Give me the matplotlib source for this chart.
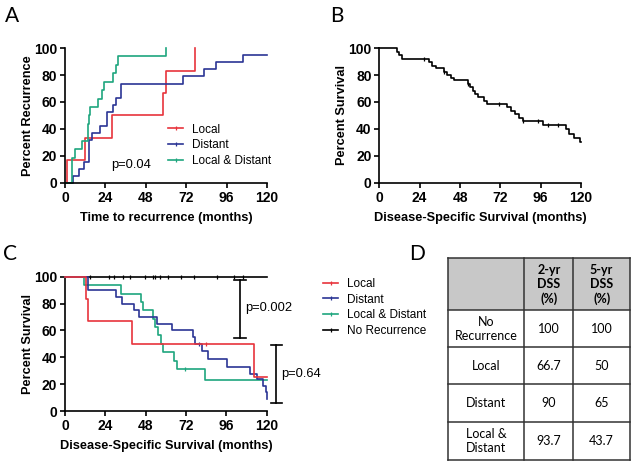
import numpy as np
import matplotlib
matplotlib.use("Agg")
import matplotlib.pyplot as plt
from matplotlib.lines import Line2D

plt.rcParams["font.family"] = ["Liberation Sans", "DejaVu Sans"]

RED = "#e8343c"
BLUE = "#2b3595"
GREEN = "#1ea67e"

# --- A : cumulative recurrence (time, percent after step)
a_local_t = [0, 1.2, 11.9, 28.0, 58.5, 60.0, 77.0]
a_local_v = [0, 16.7, 33.3, 50.0, 66.7, 83.3, 100.0]
a_dist_t = [0, 4.6, 8.6, 11.2, 14.2, 15.8, 20.6, 25.0, 28.4, 30.4, 33.4, 70.0, 82.7, 89.9, 105.8, 120]
a_dist_v = [0, 5.3, 10.5, 15.8, 31.6, 36.8, 42.1, 52.6, 57.9, 63.2, 73.7, 78.9, 84.2, 89.5, 94.7, 94.7]
a_ld_t = [0, 4.2, 5.8, 10.1, 13.7, 14.3, 15.0, 19.6, 21.7, 23.1, 28.5, 30.1, 31.7, 33.8, 60.0]
a_ld_v = [0, 18.75, 25.0, 31.25, 43.75, 50.0, 56.25, 62.5, 68.75, 75.0, 81.25, 87.5, 93.75, 93.75, 100.0]
a_pval = "p=0.04"

# --- B : overall disease-specific survival
b_t = [0, 10.5, 12.0, 13.5, 29.5, 31.5, 33.5, 38.5, 40.5, 42.5, 44.5, 46.4, 52.5, 54.0, 55.5,
       57.0, 59.0, 62.0, 64.0, 66.3, 75.8, 78.4, 80.8, 83.0, 85.3, 97.2, 110.8, 112.8, 115.9,
       119.4, 120]
b_v = [100, 97.4, 94.8, 92.0, 89.5, 87.0, 85.0, 82.5, 80.0, 78.0, 76.0, 76.0, 73.5, 71.0, 68.5,
       66.0, 63.5, 61.0, 58.5, 58.5, 56.0, 53.5, 51.0, 48.5, 46.0, 43.0, 40.0, 36.0, 33.0,
       30.0, 30.0]
b_cens = [26.6, 38.7, 53.0, 71.4, 85.6, 94.6, 100.6, 106.0]

# --- C : survival by recurrence pattern
c_local_t = [0, 12.5, 13.5, 39.8, 112.7, 120]
c_local_v = [100, 83.3, 66.7, 50.0, 25.0, 25.0]
c_local_cens = [83.9]
c_dist_t = [0, 13.7, 30.4, 33.9, 40.9, 43.9, 54.5, 63.5, 76.4, 77.4, 81.4, 85.3, 96.6, 110.1,
            114.1, 118.0, 119.5, 120]
c_dist_v = [100, 90, 85, 80, 75, 70, 65, 60, 55, 50, 44.4, 38.5, 33.0, 27.8,
            23.5, 19.0, 14.0, 9.0]
c_dist_cens = [79.5]
c_ld_t = [0, 11.1, 33.5, 45.4, 46.4, 52.6, 53.6, 55.5, 57.0, 58.5, 64.9, 66.5, 83.3, 120]
c_ld_v = [100, 93.75, 87.5, 81.25, 75.0, 68.75, 62.5, 56.25, 50.0, 43.75, 37.5, 31.25, 23.4, 23.4]
c_ld_cens = [71.4]
c_norec_t = [0, 120]
c_norec_v = [100, 100]
c_norec_cens = [15, 26, 29.3, 34.5, 38.9, 47.4, 52.6, 53.6, 56.5, 61.5, 68.9, 77, 90.3, 100.8, 106.1]
c_pvals = ["p=0.002", "p=0.64"]
c_bracket_x = [104, 125.8]
c_bracket_lo = [54.6, 6.2]
c_bracket_hi = [97.3, 49.1]
c_text_y = [76.5, 27.3]

# --- D : table
d_cols = ["", "2-yr\nDSS\n(%)", "5-yr\nDSS\n(%)"]
d_rows = ["No\nRecurrence", "Local", "Distant", "Local &\nDistant"]
d_2yr = ["100", "66.7", "90", "93.7"]
d_5yr = ["100", "50", "65", "43.7"]


def km(ax, t, v, color, censor=(), z=2):
    ax.step(t, v, where="post", color=color, lw=1.2, clip_on=False, zorder=z)
    if len(censor):
        idx = np.searchsorted(t, censor, side="right") - 1
        ax.plot(censor, np.array(v)[idx], ls="none", marker="|", ms=3.5, mew=0.9,
                color=color, clip_on=False, zorder=z)


def style(ax, xlabel, ylabel):
    ax.set_xlim(0, 120)
    ax.set_ylim(0, 100)
    ax.set_xticks(range(0, 121, 24))
    ax.set_yticks(range(0, 101, 20))
    for s in ["top", "right"]:
        ax.spines[s].set_visible(False)
    for s in ["left", "bottom"]:
        ax.spines[s].set_linewidth(1.2)
    ax.tick_params(width=1.2, length=3.5, labelsize=10, pad=2)
    for lab in ax.get_xticklabels() + ax.get_yticklabels():
        lab.set_fontweight("bold")
    ax.set_xlabel(xlabel, fontweight="bold", fontsize=9.2, labelpad=5)
    ax.set_ylabel(ylabel, fontweight="bold", fontsize=9.2)
    ax.yaxis.set_label_coords(-0.155, 0.5)


fig = plt.figure(figsize=(6.39, 4.72), dpi=100)

# A
axA = fig.add_axes([0.1017, 0.6123, 0.316, 0.286])
km(axA, a_local_t, a_local_v, RED)
km(axA, a_dist_t, a_dist_v, BLUE)
km(axA, a_ld_t, a_ld_v, GREEN)
style(axA, "Time to recurrence (months)", "Percent Recurrence")
axA.text(27.3, 13.3, a_pval, fontsize=9.3, va="center")
hA = [Line2D([], [], color=c, lw=1.2, marker="|", ms=3, mew=0.9) for c in (RED, BLUE, GREEN)]
axA.legend(hA, ["Local", "Distant", "Local & Distant"], loc="upper left",
           bbox_to_anchor=(0.51, 0.44), frameon=False, fontsize=8.5, borderpad=0,
           borderaxespad=0, handlelength=1.3, handletextpad=0.7, labelspacing=0.3)

# B
axB = fig.add_axes([0.5936, 0.6123, 0.3157, 0.286])
km(axB, b_t, b_v, "black", b_cens)
style(axB, "Disease-Specific Survival (months)", "Percent Survival")

# C
axC = fig.add_axes([0.1017, 0.1292, 0.3157, 0.2845])
km(axC, c_norec_t, c_norec_v, "black", c_norec_cens, z=2)
km(axC, c_ld_t, c_ld_v, GREEN, c_ld_cens, z=3)
km(axC, c_dist_t, c_dist_v, BLUE, c_dist_cens, z=4)
km(axC, c_local_t, c_local_v, RED, c_local_cens, z=5)
style(axC, "Disease-Specific Survival (months)", "Percent Survival")
for x, lo, hi, ty, p in zip(c_bracket_x, c_bracket_lo, c_bracket_hi, c_text_y, c_pvals):
    axC.plot([x, x], [lo, hi], color="black", lw=1.2, clip_on=False)
    axC.plot([x - 3.5, x + 3.5], [lo, lo], color="black", lw=1.2, clip_on=False)
    axC.plot([x - 3.5, x + 3.5], [hi, hi], color="black", lw=1.2, clip_on=False)
    axC.text(x + 3.0, ty, p, fontsize=9.3, va="center")
hC = [Line2D([], [], color=c, lw=1.2, marker="|", ms=3, mew=0.9)
      for c in (RED, BLUE, GREEN, "black")]
axC.legend(hC, ["Local", "Distant", "Local & Distant", "No Recurrence"], loc="upper left",
           bbox_to_anchor=(1.279, 0.99), frameon=False, fontsize=8.5, borderpad=0,
           borderaxespad=0, handlelength=1.3, handletextpad=0.7, labelspacing=0.3)

# D table
axD = fig.add_axes([0.7016, 0.0254, 0.2843, 0.4273])
axD.set_xlim(0, 1)
axD.set_ylim(0, 1)
axD.axis("off")
col_w = [0.418, 0.27, 0.312]
row_h = [0.256, 0.185, 0.183, 0.188, 0.188]
xs = np.concatenate([[0], np.cumsum(col_w)])
ys = 1 - np.concatenate([[0], np.cumsum(row_h)])
axD.add_patch(plt.Rectangle((0, ys[1]), 1, ys[0] - ys[1], color="#c8c8c8", lw=0))
for x in xs:
    axD.plot([x, x], [ys[-1], ys[0]], color="#333333", lw=1.1, clip_on=False)
for y in ys:
    axD.plot([0, 1], [y, y], color="#333333", lw=1.1, clip_on=False)
tfont = dict(family=["Lato", "DejaVu Sans"], fontsize=9, ha="center", va="center",
             linespacing=1.2)
table = [d_cols] + [[r, a, b] for r, a, b in zip(d_rows, d_2yr, d_5yr)]
for i, row in enumerate(table):
    for j, txt in enumerate(row):
        cx = (xs[j] + xs[j + 1]) / 2
        cy = (ys[i] + ys[i + 1]) / 2
        axD.text(cx, cy, txt, fontweight="bold" if i == 0 else "normal", **tfont)

for lab, x, y in [("A", 0.008, 0.988), ("B", 0.516, 0.988), ("C", 0.005, 0.483), ("D", 0.640, 0.483)]:
    fig.text(x, y, lab, fontsize=15, family=["Lato", "DejaVu Sans"], ha="left", va="top")

fig.savefig("out.png", dpi=100)
